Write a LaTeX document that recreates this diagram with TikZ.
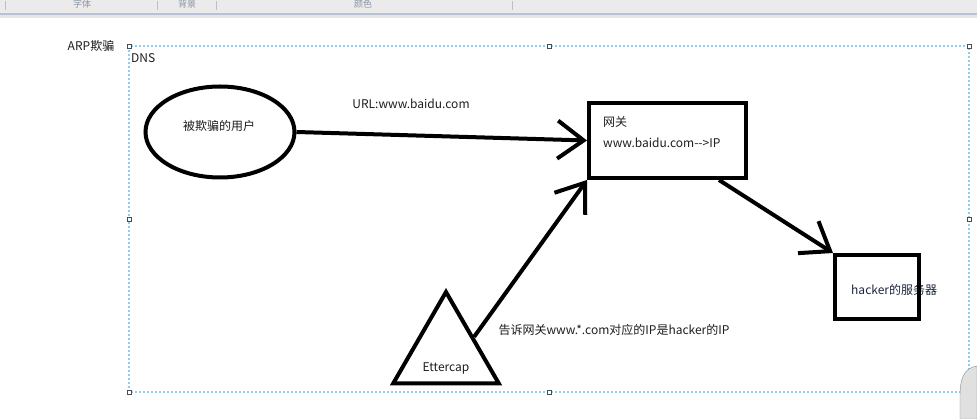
\documentclass[tikz,border=0pt]{standalone}
\usepackage{fontspec}
\setmainfont{Noto Sans CJK SC}
\usetikzlibrary{arrows.meta,shapes.geometric}
\definecolor{selblue}{HTML}{8FCDF2}
\definecolor{barbg}{HTML}{EBEBEB}
\definecolor{barline}{HTML}{B9C1D6}
\definecolor{bartext}{HTML}{8A94A6}
\definecolor{inktext}{HTML}{1E1E1E}
\definecolor{navytext}{HTML}{1C2640}

\begin{document}
\begin{tikzpicture}[x=1pt,y=-1pt,
    every node/.style={font=\fontsize{12}{14}\selectfont,text=inktext,inner sep=0pt},
    thickline/.style={line width=4pt},
    barb/.style={thickline,-{Straight Barb[length=26pt,width=38pt]}},
    handle/.style={draw=black!70,fill=white,line width=0.6pt,minimum size=4pt}]
                \useasboundingbox (0,0) rectangle (977,419);
                \fill[white] (0,0) rectangle (977,419);

                \fill[barbg] (0,0) rectangle (977,13);
                \fill[barline] (0,13) rectangle (977,15);
                \fill[black!10] (0,15) rectangle (977,18);
                \foreach \sx in {5,157,216,512}
                    \draw[black!25] (\sx,1) -- (\sx,10);
                \node[font=\fontsize{9}{10}\selectfont,text=bartext] (fontlabel) at (82,4) {字体};
                \node[font=\fontsize{9}{10}\selectfont,text=bartext] (bglabel) at (187,4) {背景};
                \node[font=\fontsize{9}{10}\selectfont,text=bartext] (colorlabel) at (363,4) {颜色};

                \draw[selblue,line width=1.5pt,dash pattern=on 2pt off 2pt] (129,46) rectangle (969,392);
                \foreach \hx/\hy in {129/46,549/46,969/46,969/219,129/219,129/392,549/392,969/392}
                    \node[handle] (h\hx-\hy) at (\hx,\hy) {};
                \draw[black!45,fill=black!12] (977,366) .. controls (963,368) and (960,380) .. (960,396) -- (960,419) -- (977,419) -- cycle;

                \node (arplabel) at (91,46) {ARP欺骗};
                \node[anchor=west] (dnslabel) at (131,58) {DNS};

                \node[ellipse,draw,thickline,minimum width=149pt,minimum height=91pt] (user) at (220,132) {};
                \node (username) at (219,126) {被欺骗的用户};
                \node (urllabel) at (411,104) {URL:www.baidu.com};

                \node[draw,thickline,minimum width=157pt,minimum height=75pt] (gateway) at (667.5,140.5) {};
                \node[anchor=west] (gwname) at (603,122) {网关};
                \node[anchor=west] (gwmap) at (603,143) {www.baidu.com-{}->IP};

                \node[anchor=west,text=navytext] (hackername) at (851,290) {hacker的服务器};
                \node[draw,thickline,minimum width=84pt,minimum height=64pt] (hacker) at (877,287) {};

                \node[regular polygon,regular polygon sides=3,draw,thickline,minimum size=122pt] (ettercap) at (446,353) {};
                \node (ettercapname) at (446,368) {Ettercap};
                \node (spooflabel) at (614,330) {告诉网关www.*.com对应的IP是hacker的IP};

                \draw[barb] (user.east) -- (gateway.west);
                \draw[barb] ([xshift=-29pt]gateway.south east) -- (hacker.north west);
                \draw[barb] (ettercap.side 3) -- (gateway.south west);
\end{tikzpicture}
\end{document}
